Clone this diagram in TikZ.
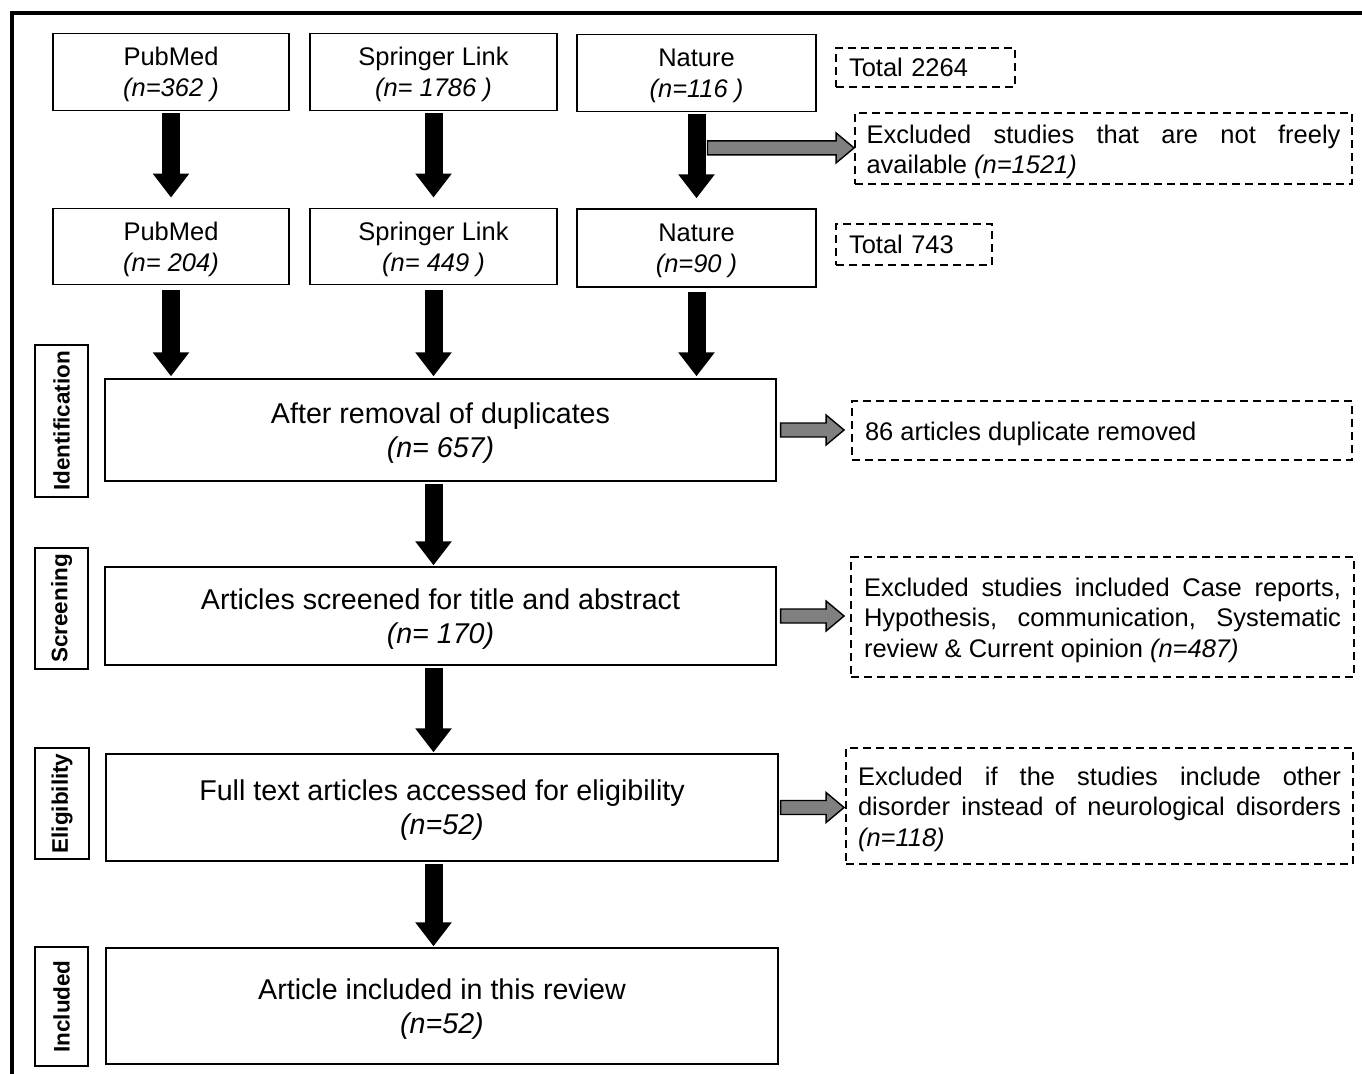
\documentclass[tikz,border=0pt]{standalone}
\usepackage{fontspec}
\setmainfont{Liberation Sans}
\usetikzlibrary{arrows.meta,calc}
\hyphenpenalty=10000
\tolerance=9999

\newcommand\sidearrow[2]{%
	\draw[exclarrow] let \p1=(#1), \p2=(#2) in
		(\x1,\y1+0.14cm) -- (\x2-0.36cm,\y1+0.14cm) -- (\x2-0.36cm,\y1+0.3cm) -- (\x2,\y1)
		-- (\x2-0.36cm,\y1-0.3cm) -- (\x2-0.36cm,\y1-0.14cm) -- (\x1,\y1-0.14cm) -- cycle;}

\begin{document}
\begin{tikzpicture}[x=0.02cm,y=-0.02cm]
	\tikzset{sourcebox/.style={draw,line width=0.8pt,minimum height=1.53cm,inner sep=0pt,align=center,font=\fontsize{14.5pt}{17.6pt}\selectfont,text depth=0pt}}
	\tikzset{stagebox/.style={draw,line width=0.8pt,inner sep=0pt,align=center,font=\fontsize{16.3pt}{19.3pt}\selectfont,text depth=0pt}}
	\tikzset{phasebox/.style={draw,line width=0.8pt,rotate=90,minimum height=1.06cm,inner sep=0pt,font=\bfseries\fontsize{12.8pt}{14pt}\selectfont}}
	\tikzset{totalbox/.style={draw,line width=1.1pt,dash pattern=on 0.16cm off 0.1cm,inner xsep=0.26cm,inner ysep=0pt,align=left,font=\fontsize{14.5pt}{17.6pt}\selectfont}}
	\tikzset{exclbox/.style={draw,line width=1.1pt,dash pattern=on 0.16cm off 0.1cm,inner ysep=0pt,align=justify,font=\fontsize{14.5pt}{17.3pt}\selectfont,execute at begin node=\rule{0pt}{14.3pt}}}
	\tikzset{flowarrow/.style={line width=0.36cm,-{Triangle[width=0.7cm,length=0.48cm]}}}
	\tikzset{exclarrow/.style={draw=black,line width=0.8pt,fill=gray}}

\useasboundingbox (0,0) rectangle (1362,1074);
\draw[line width=0.08cm] (12,1090) -- (12,13) -- (1380,13);

% databases
\node[sourcebox,minimum width=4.72cm] (pm1) at (171,72) {PubMed\\\textit{(n=362 )}};
\node[sourcebox,minimum width=4.94cm] (sl1) at (433.5,72) {Springer Link\\\textit{(n= 1786 )}};
\node[sourcebox,minimum width=4.78cm] (nat1) at (696.5,73) {Nature\\\textit{(n=116 )}};
\node[totalbox,text width=3.06cm,minimum height=0.78cm] (tot1) at (925.5,67.5) {Total 2264};
\node[exclbox,text width=9.48cm,inner xsep=0.23cm,minimum height=1.42cm] (excl1) at (1103.5,148.5)
	{Excluded studies that are not freely\linebreak available \textit{(n=1521)}};

\node[sourcebox,minimum width=4.72cm] (pm2) at (171,246.5) {PubMed\\\textit{(n= 204)}};
\node[sourcebox,minimum width=4.94cm] (sl2) at (433.5,246.5) {Springer Link\\\textit{(n= 449 )}};
\node[sourcebox,minimum width=4.78cm,minimum height=1.56cm] (nat2) at (696.5,248) {Nature\\\textit{(n=90 )}};
\node[totalbox,text width=2.6cm,minimum height=0.82cm] (tot2) at (914,244.5) {Total 743};

% phases
\node[phasebox,minimum width=3.04cm] (ident) at (61.5,421) {Identification};
\node[phasebox,minimum width=2.42cm] (screen) at (61.5,608.5) {Screening};
\node[phasebox,minimum width=2.22cm,minimum height=1.08cm] (elig) at (62,803.5) {Eligibility};
\node[phasebox,minimum width=2.38cm] (incl) at (61.5,1006.5) {Included};

\node[stagebox,minimum width=13.42cm,minimum height=2.04cm] (dup) at (440.5,430) {After removal of duplicates\\\textit{(n= 657)}};
\node[stagebox,minimum width=13.42cm,minimum height=1.96cm] (scrn) at (440.5,616) {Articles screened for title and abstract\\\textit{(n= 170)}};
\node[stagebox,minimum width=13.44cm,minimum height=2.14cm] (full) at (442,807.5) {Full text articles accessed for eligibility\\\textit{(n=52)}};
\node[stagebox,minimum width=13.44cm,minimum height=2.32cm] (final) at (442,1006) {Article included in this review\\\textit{(n=52)}};

\node[exclbox,text width=9.48cm,inner xsep=0.26cm,minimum height=1.18cm] (rem) at (1102,430.5) {86 articles duplicate removed};
\node[exclbox,text width=9.54cm,inner xsep=0.26cm,minimum height=2.4cm] (excl2) at (1102.5,617)
	{Excluded studies included Case reports,\linebreak Hypothesis, communication, Systematic\linebreak review \& Current opinion \textit{(n=487)}};
\node[exclbox,text width=9.66cm,inner xsep=0.24cm,minimum height=2.32cm] (excl3) at (1099.5,806)
	{Excluded if the studies include other\linebreak disorder instead of neurological disorders\linebreak \textit{(n=118)}};

% arrows
\draw[flowarrow,shorten <=0.04cm,shorten >=0.2cm] (pm1.south) -- (pm2.north);
\draw[flowarrow,shorten <=0.04cm,shorten >=0.2cm] (sl1.south) -- (sl2.north);
\draw[flowarrow,shorten <=0.04cm,shorten >=0.2cm] (nat1.south) -- (nat2.north);
\draw[flowarrow,shorten <=0.1cm,shorten >=0.04cm] (pm2.south) -- (pm2.south |- dup.north);
\draw[flowarrow,shorten <=0.1cm,shorten >=0.04cm] (sl2.south) -- (sl2.south |- dup.north);
\draw[flowarrow,shorten <=0.08cm,shorten >=0.04cm] (nat2.south) -- (nat2.south |- dup.north);
\draw[flowarrow,shorten <=0.04cm,shorten >=0.02cm] (dup.south -| sl2) -- (scrn.north -| sl2);
\draw[flowarrow,shorten <=0.04cm,shorten >=0.02cm] (scrn.south -| sl2) -- (full.north -| sl2);
\draw[flowarrow,shorten <=0.04cm,shorten >=0.02cm] (full.south -| sl2) -- (final.north -| sl2);

\coordinate (fork) at ($(nat1.south)+(11,36)$);
\sidearrow{fork}{excl1.west}
\sidearrow{$(dup.east)+(4,0)$}{$(rem.west)+(-7,0)$}
\sidearrow{$(scrn.east)+(4,0)$}{$(excl2.west)+(-6,0)$}
\sidearrow{$(full.east)+(2,0)$}{$(excl3.west)+(-1,0)$}

\end{tikzpicture}
\end{document}
